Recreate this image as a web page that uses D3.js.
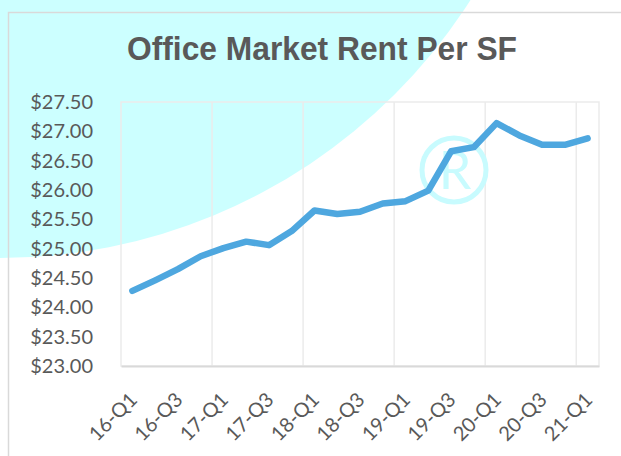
<!DOCTYPE html>
<html>
<head>
<meta charset="utf-8">
<script src="https://cdn.jsdelivr.net/npm/d3@7"></script>
<style>
  body { margin: 0; background: #fff; }
  svg { display: block; }
</style>
</head>
<body>
<div id="chart"></div>
<script>
var width = 621,
    height = 456;

// data
var quarters = ['16-Q1', '16-Q2', '16-Q3', '16-Q4',
                '17-Q1', '17-Q2', '17-Q3', '17-Q4',
                '18-Q1', '18-Q2', '18-Q3', '18-Q4',
                '19-Q1', '19-Q2', '19-Q3', '19-Q4',
                '20-Q1', '20-Q2', '20-Q3', '20-Q4',
                '21-Q1'];
var rent = [24.28, 24.46, 24.65, 24.87,
            25.01, 25.12, 25.06, 25.30,
            25.65, 25.59, 25.63, 25.77,
            25.81, 25.99, 26.66, 26.73,
            27.14, 26.93, 26.77, 26.77,
            26.88];
var xTickLabels = ['16-Q1', '16-Q3', '17-Q1', '17-Q3', '18-Q1', '18-Q3',
                   '19-Q1', '19-Q3', '20-Q1', '20-Q3', '21-Q1'];
var yTicks = [23, 23.5, 24, 24.5, 25, 25.5, 26, 26.5, 27, 27.5];
var gridEvery = 4;

var plot = {left: 121, right: 599, top: 102, bottom: 366};

var svg = d3.select('#chart').append('svg')
    .attr('width', width)
    .attr('height', height);

// cyan blob in the corner
svg.append('circle')
    .attr('cx', 0)
    .attr('cy', -300)
    .attr('r', 558)
    .attr('fill', '#ccffff');

// outer chart border
svg.append('rect')
    .attr('x', 8.5)
    .attr('y', 12.5)
    .attr('width', 700)
    .attr('height', 600)
    .attr('fill', 'none')
    .attr('stroke', '#d9d9d9')
    .attr('stroke-width', 1.5);

// title
svg.append('text')
    .attr('x', 322)
    .attr('y', 60)
    .attr('text-anchor', 'middle')
    .attr('textLength', 390)
    .attr('lengthAdjust', 'spacingAndGlyphs')
    .style('font-family', '"Liberation Sans", Arial, sans-serif')
    .style('font-weight', 'bold')
    .style('font-size', '33px')
    .style('fill', '#595959')
    .text('Office Market Rent Per SF');

var x = d3.scaleBand()
    .domain(quarters)
    .range([plot.left, plot.right]);

var y = d3.scaleLinear()
    .domain([23, 27.5])
    .range([plot.bottom, plot.top]);

// plot area border
svg.append('rect')
    .attr('x', plot.left)
    .attr('y', plot.top)
    .attr('width', plot.right - plot.left)
    .attr('height', plot.bottom - plot.top)
    .attr('fill', 'none')
    .attr('stroke', '#ebebeb')
    .attr('stroke-width', 1.5);

// vertical gridlines every 4 quarters
var gridQ = quarters.filter(function(d, i) { return i % gridEvery === 0 && i > 0; });
svg.append('g').selectAll('line')
    .data(gridQ)
  .enter().append('line')
    .attr('x1', function(d) { return x(d); })
    .attr('x2', function(d) { return x(d); })
    .attr('y1', plot.top)
    .attr('y2', plot.bottom)
    .attr('stroke', '#ebebeb')
    .attr('stroke-width', 1.5);

// watermark
svg.append('circle')
    .attr('cx', 454)
    .attr('cy', 170)
    .attr('r', 32)
    .attr('fill', 'none')
    .attr('stroke', '#c8fbfe')
    .attr('stroke-width', 5);
svg.append('text')
    .attr('x', 455)
    .attr('y', 189)
    .attr('text-anchor', 'middle')
    .style('font-family', 'Lato, sans-serif')
    .style('font-size', '52px')
    .style('fill', '#c8fbfe')
    .text('R');

// y axis
var yAxis = svg.append('g')
    .attr('transform', 'translate(' + plot.left + ',0)')
    .call(d3.axisLeft(y)
      .tickValues(yTicks)
      .tickSize(0)
      .tickPadding(28)
      .tickFormat(d3.format('$.2f')));
yAxis.select('.domain').remove();
yAxis.selectAll('text')
    .style('font-family', 'Lato, sans-serif')
    .style('font-size', '20px')
    .style('fill', '#595959');

// x axis
var xAxis = svg.append('g')
    .attr('transform', 'translate(0,' + plot.bottom + ')')
    .call(d3.axisBottom(x)
      .tickValues(xTickLabels)
      .tickSize(0));
xAxis.select('.domain')
    .attr('stroke', '#d9d9d9')
    .attr('stroke-width', 2);
xAxis.selectAll('text')
    .style('font-family', 'Lato, sans-serif')
    .style('font-size', '20px')
    .style('fill', '#595959')
    .attr('text-anchor', 'end')
    .attr('dy', null)
    .attr('y', null)
    .attr('transform', 'translate(6,35) rotate(-45)');

// the line
var line = d3.line()
    .x(function(d, i) { return x(quarters[i]) + x.bandwidth() / 2; })
    .y(function(d) { return y(d); });

svg.append('path')
    .datum(rent)
    .attr('d', line)
    .attr('fill', 'none')
    .attr('stroke', '#4ea7df')
    .attr('stroke-width', 6.5)
    .attr('stroke-linecap', 'round')
    .attr('stroke-linejoin', 'round');
</script>
</body>
</html>
